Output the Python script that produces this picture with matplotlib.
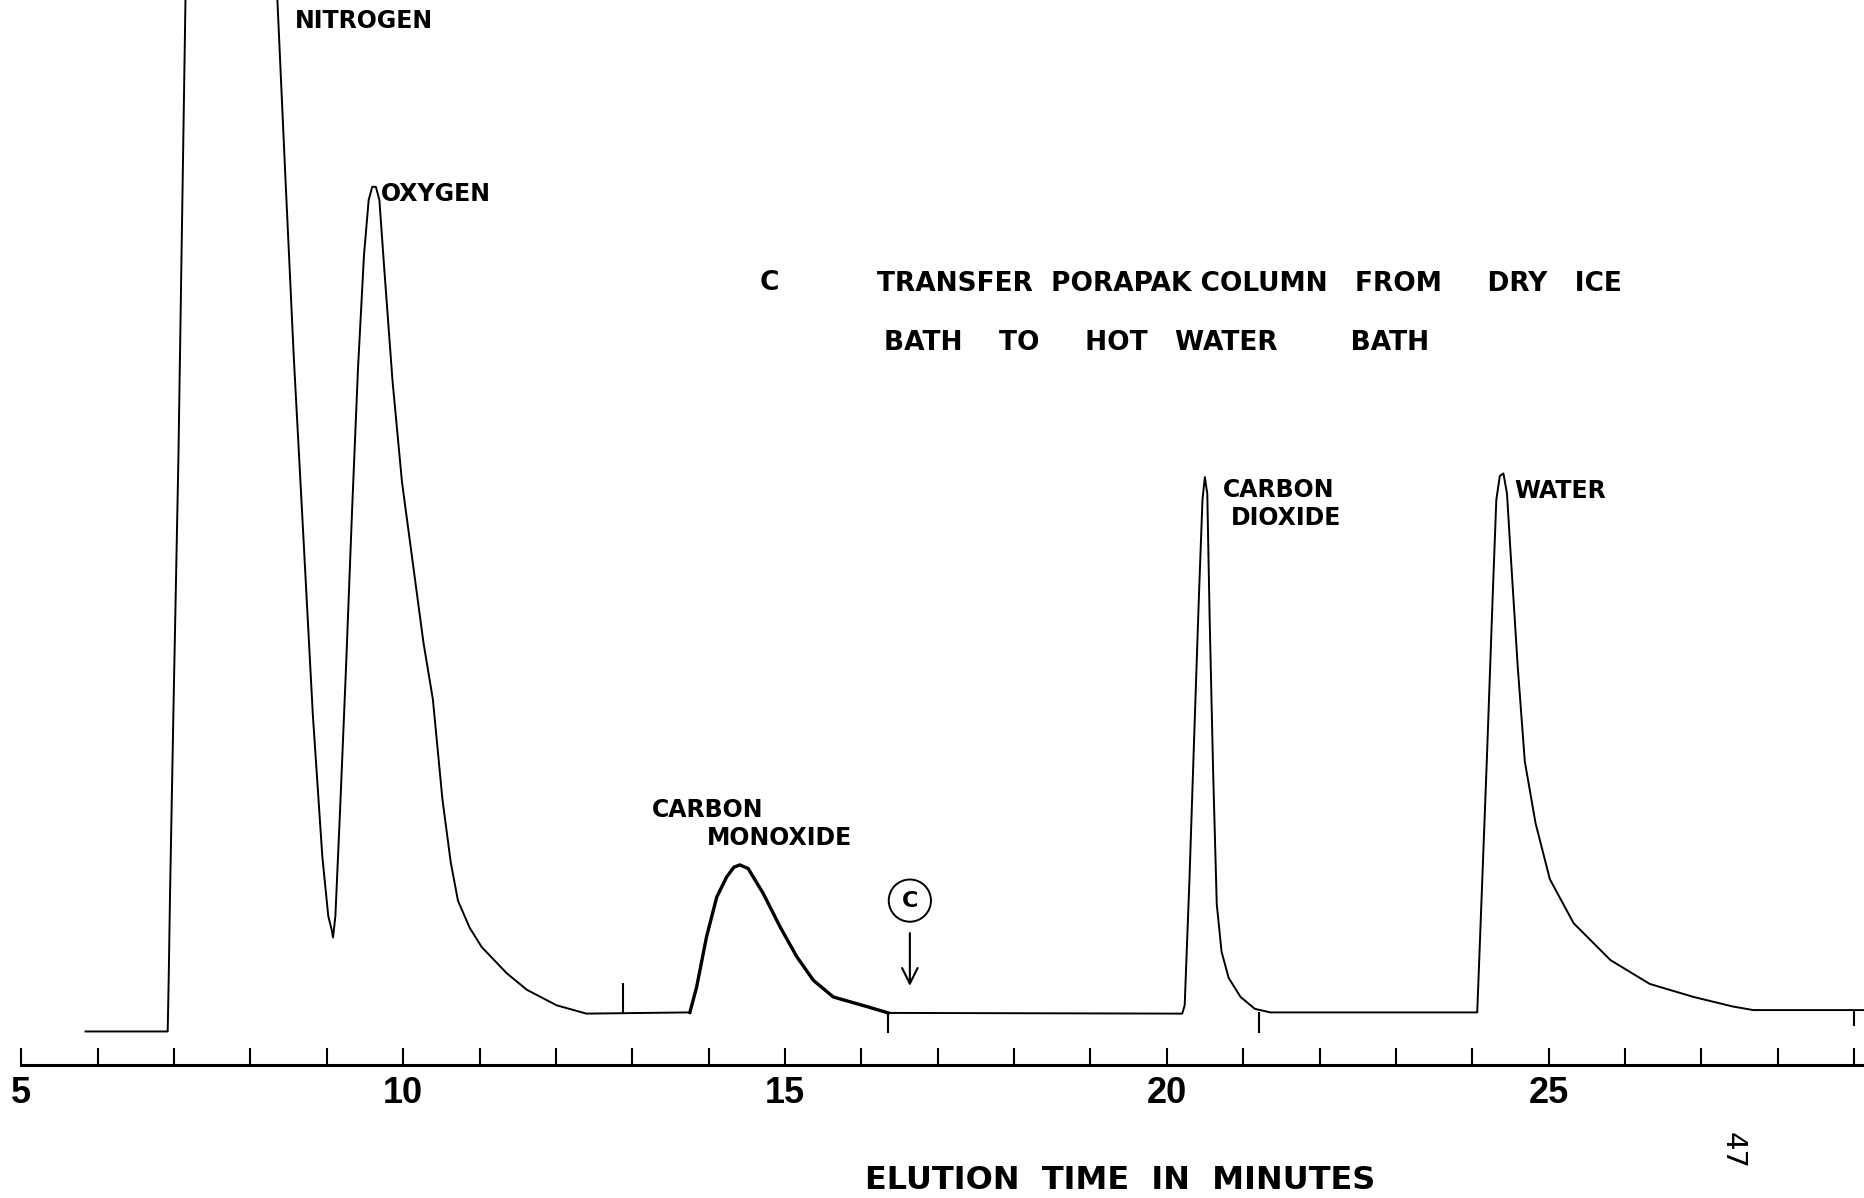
import matplotlib
matplotlib.use("Agg")
import matplotlib.pyplot as plt
import numpy as np

# elution time (min) and detector response (arbitrary units, baseline = 0)
time_min = [
    5.84, 6.916, 6.93, 6.947, 6.994, 7.056, 7.150, 7.75, 8.349,
    8.458, 8.567, 8.692, 8.816, 8.941, 9.019, 9.065, 9.081,
    # oxygen
    9.112, 9.174, 9.252, 9.330, 9.408, 9.486, 9.548, 9.595, 9.642, 9.688,
    9.751, 9.860, 9.984, 10.109, 10.265, 10.389, 10.514, 10.623, 10.717,
    10.872, 11.028, 11.355, 11.620, 12.009, 12.399, 13.754,
    # carbon monoxide
    13.843, 13.972, 14.106, 14.237, 14.330, 14.408, 14.517, 14.715, 14.935,
    15.153, 15.371, 15.633, 16.070, 16.352, 20.202,
    # carbon dioxide
    20.234, 20.296, 20.358, 20.421, 20.467, 20.498, 20.530, 20.561, 20.607,
    20.654, 20.717, 20.810, 20.966, 21.153, 21.355, 24.065,
    # water
    24.19, 24.268, 24.315, 24.361, 24.408, 24.455, 24.502, 24.595, 24.688,
    24.829, 25.016, 25.327, 25.810, 26.324, 26.900, 27.414, 27.679, 29.143,
]
response = [
    -1.76, -1.76, 3.76, 11.97, 30.99, 54.69, 100.59, 160.0, 100.59,
    82.39, 64.79, 47.18, 29.58, 15.49, 9.62, 8.22, 7.51,
    9.62, 20.19, 34.27, 49.53, 63.62, 74.77, 80.28, 81.57, 81.57, 80.28,
    73.59, 62.44, 52.46, 45.42, 36.62, 30.99, 21.13, 14.91, 11.15,
    8.45, 6.57, 3.99, 2.35, 0.82, 0.0, 0.12,
    2.63, 7.57, 11.50, 13.50, 14.44, 14.67, 14.32, 11.85, 8.57,
    5.63, 3.29, 1.64, 0.70, 0.07, 0.0,
    0.82, 13.15, 27.23, 41.31, 50.70, 52.93, 51.29, 38.97, 23.71,
    10.80, 6.10, 3.52, 1.64, 0.47, 0.12, 0.12,
    24.88, 41.31, 50.70, 53.05, 53.29, 51.29, 45.42, 34.27, 24.88,
    18.78, 13.26, 8.92, 5.28, 2.93, 1.64, 0.70, 0.35, 0.35,
]

# pen event marks on the trace: time, start, end
mark_time = [12.88, 16.352, 21.21, 29.0]
mark_from = [0.1, 0.0, 0.2, 0.35]
mark_to = [3.05, -1.95, -1.95, -1.2]

# event C (column transfer) and its arrow
event_time = 16.635
event_label_y = 11.15
arrow_top, arrow_tip = 8.22, 2.46

axis_y = -5.05
major_ticks = [5, 10, 15, 20, 25]
minor_ticks = list(range(5, 30))

fig = plt.figure(figsize=(18.65, 11.98), dpi=100)
ax = fig.add_axes([0, 0, 1, 1])
ax.set_xlim(4.72, 29.143)
ax.set_ylim(-18.19, 100)

t = np.array(time_min)
r = np.array(response)
ax.plot(t, r, color="black", lw=1.4, solid_joinstyle="round")
co = (t >= 13.75) & (t <= 16.36)
ax.plot(t[co], r[co], color="black", lw=2.4, solid_joinstyle="round")

ax.vlines(mark_time, mark_from, mark_to, color="black", lw=1.5)

# time axis along the bottom
for side in ["top", "left", "right"]:
    ax.spines[side].set_visible(False)
ax.spines["bottom"].set_position(("data", axis_y))
ax.spines["bottom"].set_bounds(5, 29.2)
ax.spines["bottom"].set_linewidth(2.2)
ax.set_xticks(major_ticks)
ax.set_xticks(minor_ticks, minor=True)
ax.set_yticks([])
ax.tick_params(axis="x", which="both", direction="in", length=12, width=1.5)
ax.tick_params(axis="x", which="major", pad=8)
for lab in ax.get_xticklabels():
    lab.set_fontfamily(["Liberation Sans", "DejaVu Sans"])
    lab.set_fontweight("bold")
    lab.set_fontsize(26)

lbl = dict(transform=ax.transAxes, fontsize=17, fontweight="bold", va="center", ha="left")
ax.text(248 / 1568, 1 - 18 / 1007, "NITROGEN", **lbl)
ax.text(320 / 1568, 1 - 163 / 1007, "OXYGEN", **lbl)
ax.text(548 / 1568, 1 - 681 / 1007, "CARBON", **lbl)
ax.text(594 / 1568, 1 - 704 / 1007, "MONOXIDE", **lbl)
ax.text(1028 / 1568, 1 - 412 / 1007, "CARBON", **lbl)
ax.text(1035 / 1568, 1 - 435 / 1007, "DIOXIDE", **lbl)
ax.text(1273 / 1568, 1 - 413 / 1007, "WATER", **lbl)

note = dict(transform=ax.transAxes, fontsize=19, fontweight="bold", va="center", ha="left")
ax.text(647 / 1568, 1 - 238 / 1007, "C", ha="center", transform=ax.transAxes,
        fontsize=19, fontweight="bold", va="center")
ax.text(737 / 1568, 1 - 239 / 1007, "TRANSFER  PORAPAK COLUMN   FROM     DRY   ICE", **note)
ax.text(743 / 1568, 1 - 288 / 1007, "BATH    TO     HOT   WATER        BATH", **note)

ax.text(event_time, event_label_y, "C", ha="center", va="center", fontsize=16,
        fontweight="bold",
        bbox=dict(boxstyle="circle,pad=0.5", fc="white", ec="black", lw=1.4))
ax.annotate("", xy=(event_time, arrow_tip), xytext=(event_time, arrow_top),
            arrowprops=dict(arrowstyle="->", lw=1.5, color="black", mutation_scale=28))

ax.text(942 / 1568, 1 - 992 / 1007, "ELUTION  TIME  IN  MINUTES", transform=ax.transAxes,
        fontsize=23, fontweight="bold", ha="center", va="center")
ax.text(1457 / 1568, 1 - 967 / 1007, "47", transform=ax.transAxes, fontsize=21,
        rotation=270, ha="center", va="center")

fig.savefig("out.png", dpi=100)
